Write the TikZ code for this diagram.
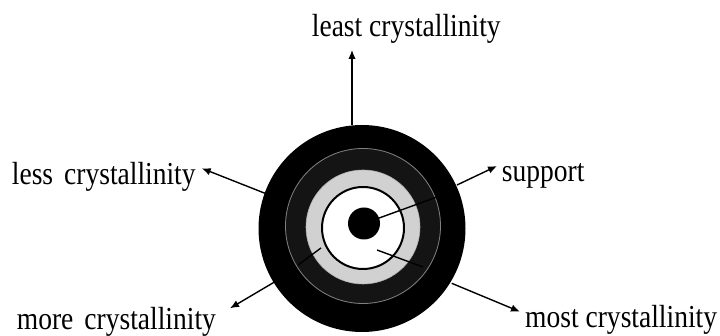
\documentclass[tikz,border=0pt]{standalone}
\usepackage{fontspec}
\setmainfont{Liberation Serif}
\usetikzlibrary{arrows.meta}
\tikzset{
  lbl/.style={anchor=base west, inner sep=0pt, font=\fontsize{32}{36}\selectfont},
  arr/.style={line width=1.4pt, -{Latex[length=9pt,width=7.5pt]}},
  seg/.style={line width=1.4pt},
}
\newcommand{\sq}[1]{\scalebox{0.86}[1]{#1}}
\begin{document}
\begin{tikzpicture}[x=1pt,y=1pt]
\useasboundingbox (0,0) rectangle (720,336);
% rings
\fill[black] (362,107.5) circle (103.5);
\fill[black!92] (363,110) circle (78);
\draw[black!50, line width=0.8pt] (363,110) circle (77.5);
\fill[black!18] (363,109) circle (57);
\draw[white!70!black, line width=0.6pt] (363,109) circle (57);
\filldraw[fill=white, draw=black, line width=2pt] (363,108) circle (41);
\node[circle, fill=black, minimum size=32pt, inner sep=0pt] (dot) at (364,112.5) {};
% named coordinates
\coordinate (c) at (364,112.5);
\coordinate (supIn) at (437,139);
\coordinate (supA) at (457,151);
\coordinate (mostA) at (377,86);
\coordinate (mostB) at (423,69);
\coordinate (mostC) at (451.7,52.7);
\coordinate (moreA) at (321,88);
\coordinate (moreB) at (298,71);
\coordinate (moreC) at (275,54.3);
\coordinate (lessA) at (265,142.7);
\coordinate (leastA) at (352,211);
% labels
\node[lbl] (least) at (311.7,299.3) {\sq{least crystallinity}};
\node[lbl] (less) at (11.7,151) {\sq{less\hspace{0.15em} crystallinity}};
\node[lbl] (more) at (16.7,6) {\sq{more\hspace{0.15em} crystallinity}};
\node[lbl] (support) at (501.7,154) {\sq{support}};
\node[lbl] (most) at (525,8) {\sq{most crystallinity}};
% tips
\coordinate (leastT) at (352,286);
\coordinate (lessT) at (201.7,167.7);
\coordinate (moreT) at (230,27.7);
\coordinate (supT) at (497,170);
\coordinate (mostT) at (520,24.3);
% connectors
\draw[seg] (c) -- (supIn);
\draw[arr] (supA) -- (supT);
\draw[seg] (mostA) -- (mostB);
\draw[arr] (mostC) -- (mostT);
\draw[seg] (moreA) -- (moreB);
\draw[arr] (moreC) -- (moreT);
\draw[arr] (lessA) -- (lessT);
\draw[arr] (leastA) -- (leastT);
\end{tikzpicture}
\end{document}
